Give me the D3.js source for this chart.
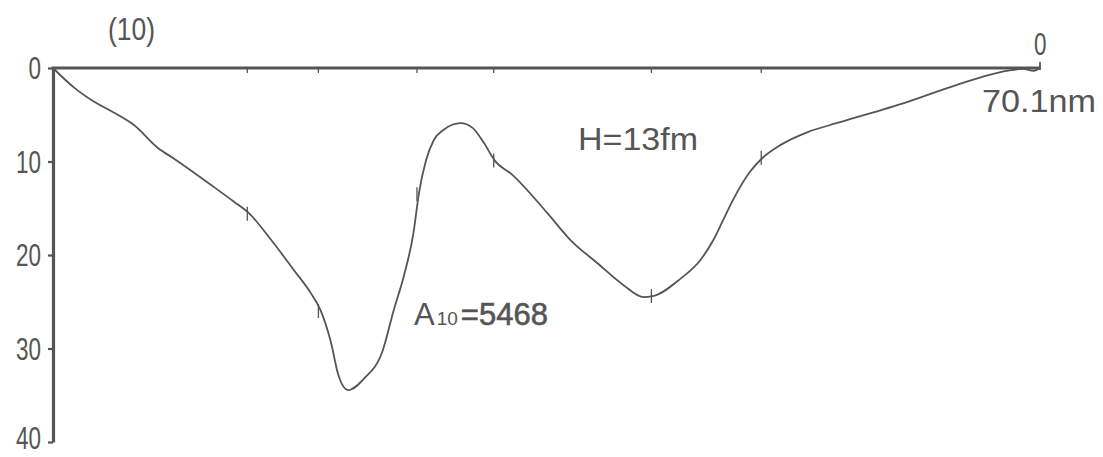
<!DOCTYPE html>
<html>
<head>
<meta charset="utf-8">
<script src="https://cdn.jsdelivr.net/npm/d3@7"></script>
<style>
  html, body { margin: 0; padding: 0; background: #fff; }
  svg { display: block; }
  .narrow { font-family: "Liberation Sans", Arial, sans-serif; fill: #555; }
  .label { font-family: "Liberation Sans", Arial, sans-serif; fill: #555; }
</style>
</head>
<body>
<svg id="chart" width="1103" height="457"></svg>
<script>
// Section (10): depth profile along the transect, distance in nm (0 at the right end)
const profileDist  = [70.1, 68.6, 67.4, 65.5, 64.35, 62.65, 61.5, 58.7, 57.25, 56.2, 54.6, 53.0, 51.8, 51.1,
                      50.4, 49.8, 49.15, 48.0, 46.7, 45.9, 45.2, 44.5, 44.1, 43.6, 43.05, 42.35, 41.15, 40.3, 39.5,
                      38.75, 37.45, 35.0, 33.35, 31.45, 29.6, 28.15, 27.5, 25.55, 24.1, 23.2, 22.5, 21.8, 20.6,
                      19.7, 18.45, 16.5, 14.2, 9.45, 5.9, 2.35, 1.2, 0.45, 0];
const profileDepth = [0, 2.1, 3.4, 5.0, 6.1, 8.55, 9.7, 12.7, 14.3, 15.5, 18.4, 21.6, 24.05, 25.9,
                      29.1, 33.0, 34.45, 33.2, 30.3, 25.9, 22.35, 17.65, 13.3, 9.85, 7.7, 6.6, 5.9, 6.4, 8.0,
                      9.85, 11.45, 15.5, 18.4, 20.85, 23.2, 24.5, 24.4, 22.55, 20.5, 18.4, 16.25, 14.1, 11.1,
                      9.6, 8.25, 6.85, 5.8, 3.65, 1.8, 0.3, 0.1, 0.3, 0];

// Sounding stations marked along the profile and on the top axis
const stationDist  = [56.3, 51.25, 44.25, 38.8, 27.6, 19.8];
const stationDepth = [15.6, 26.0, 13.5, 9.9, 24.4, 9.6];

const depthTicks = [0, 10, 20, 30, 40];
const sectionLabel = "(10)";
const distanceEndLabel = "0";
const lengthLabel = "70.1nm";
const heightLabel = "H=13fm";
const areaName = "A", areaSub = "10", areaValue = "=5468";

const ink = "#555";
const svg = d3.select("#chart");

const x = d3.scaleLinear().domain([70.1, 0]).range([53, 1040]);
const y = d3.scaleLinear().domain([0, 40]).range([68, 442]);

// condensed numerals: squeeze each label to roughly 12.5px per character
const narrowWidth = s => s.length * 12.5;

// Depth axis on the left
const yAxis = svg.append("g")
  .attr("transform", `translate(${x(70.1)},0)`)
  .call(d3.axisLeft(y).tickValues(depthTicks).tickSize(5).tickSizeOuter(0).tickFormat(d3.format("d")));
yAxis.select(".domain").attr("stroke", ink).attr("stroke-width", 3.2);
yAxis.selectAll(".tick line").attr("stroke", ink).attr("stroke-width", 2.2);
yAxis.selectAll(".tick text")
  .attr("class", "narrow")
  .attr("x", -12)
  .attr("y", (d, i, n) => i === n.length - 1 ? -4 : 0)   // keep the bottom label inside the frame
  .attr("dy", "0.34em")
  .attr("textLength", d => narrowWidth(String(d)))
  .attr("lengthAdjust", "spacingAndGlyphs")
  .style("font-size", "32px")
  .attr("fill", ink);

// Distance line along the top with station ticks
svg.append("line")
  .attr("x1", x(70.1) - 1.5).attr("x2", x(0))
  .attr("y1", y(0)).attr("y2", y(0))
  .attr("stroke", ink).attr("stroke-width", 3.2);
svg.append("line")
  .attr("x1", x(0)).attr("x2", x(0))
  .attr("y1", y(0) - 6).attr("y2", y(0) + 2)
  .attr("stroke", ink).attr("stroke-width", 1.8);
svg.selectAll(".topTick").data(stationDist).join("line")
  .attr("class", "topTick")
  .attr("x1", d => x(d)).attr("x2", d => x(d))
  .attr("y1", y(0)).attr("y2", y(0) + 5)
  .attr("stroke", ink).attr("stroke-width", 1.3);

// Bottom profile
const pts = profileDist.map((d, i) => [d, profileDepth[i]]);
const line = d3.line()
  .x(d => x(d[0])).y(d => y(d[1]))
  .curve(d3.curveMonotoneX);
svg.append("path")
  .datum(pts)
  .attr("d", line)
  .attr("fill", "none")
  .attr("stroke", ink)
  .attr("stroke-width", 1.8)
  .attr("stroke-linejoin", "round");

// Station marks on the profile
svg.selectAll(".stn").data(stationDist).join("line")
  .attr("class", "stn")
  .attr("x1", d => x(d)).attr("x2", d => x(d))
  .attr("y1", (d, i) => y(stationDepth[i]) - 7)
  .attr("y2", (d, i) => y(stationDepth[i]) + 7)
  .attr("stroke", ink).attr("stroke-width", 1.3);

// Labels
svg.append("text").attr("class", "narrow")
  .attr("x", 108).attr("y", 40)
  .attr("textLength", 47).attr("lengthAdjust", "spacingAndGlyphs")
  .style("font-size", "32px").text(sectionLabel);
svg.append("text").attr("class", "narrow")
  .attr("x", x(0) - 6).attr("y", 55)
  .attr("textLength", narrowWidth(distanceEndLabel)).attr("lengthAdjust", "spacingAndGlyphs")
  .style("font-size", "32px").text(distanceEndLabel);
svg.append("text").attr("class", "label")
  .attr("x", 982).attr("y", 112)
  .attr("textLength", 114).attr("lengthAdjust", "spacingAndGlyphs")
  .style("font-size", "31px").text(lengthLabel);
svg.append("text").attr("class", "label")
  .attr("x", 578).attr("y", 150)
  .attr("textLength", 120).attr("lengthAdjust", "spacingAndGlyphs")
  .style("font-size", "32px").text(heightLabel);

const area = svg.append("text").attr("class", "label")
  .attr("x", 414).attr("y", 325)
  .style("font-size", "31px");
area.append("tspan").text(areaName);
area.append("tspan").style("font-size", "19px").attr("dx", 2).text(areaSub);
area.append("tspan").attr("dx", 3)
  .style("stroke", ink).style("stroke-width", 0.6).text(areaValue);
</script>
</body>
</html>
